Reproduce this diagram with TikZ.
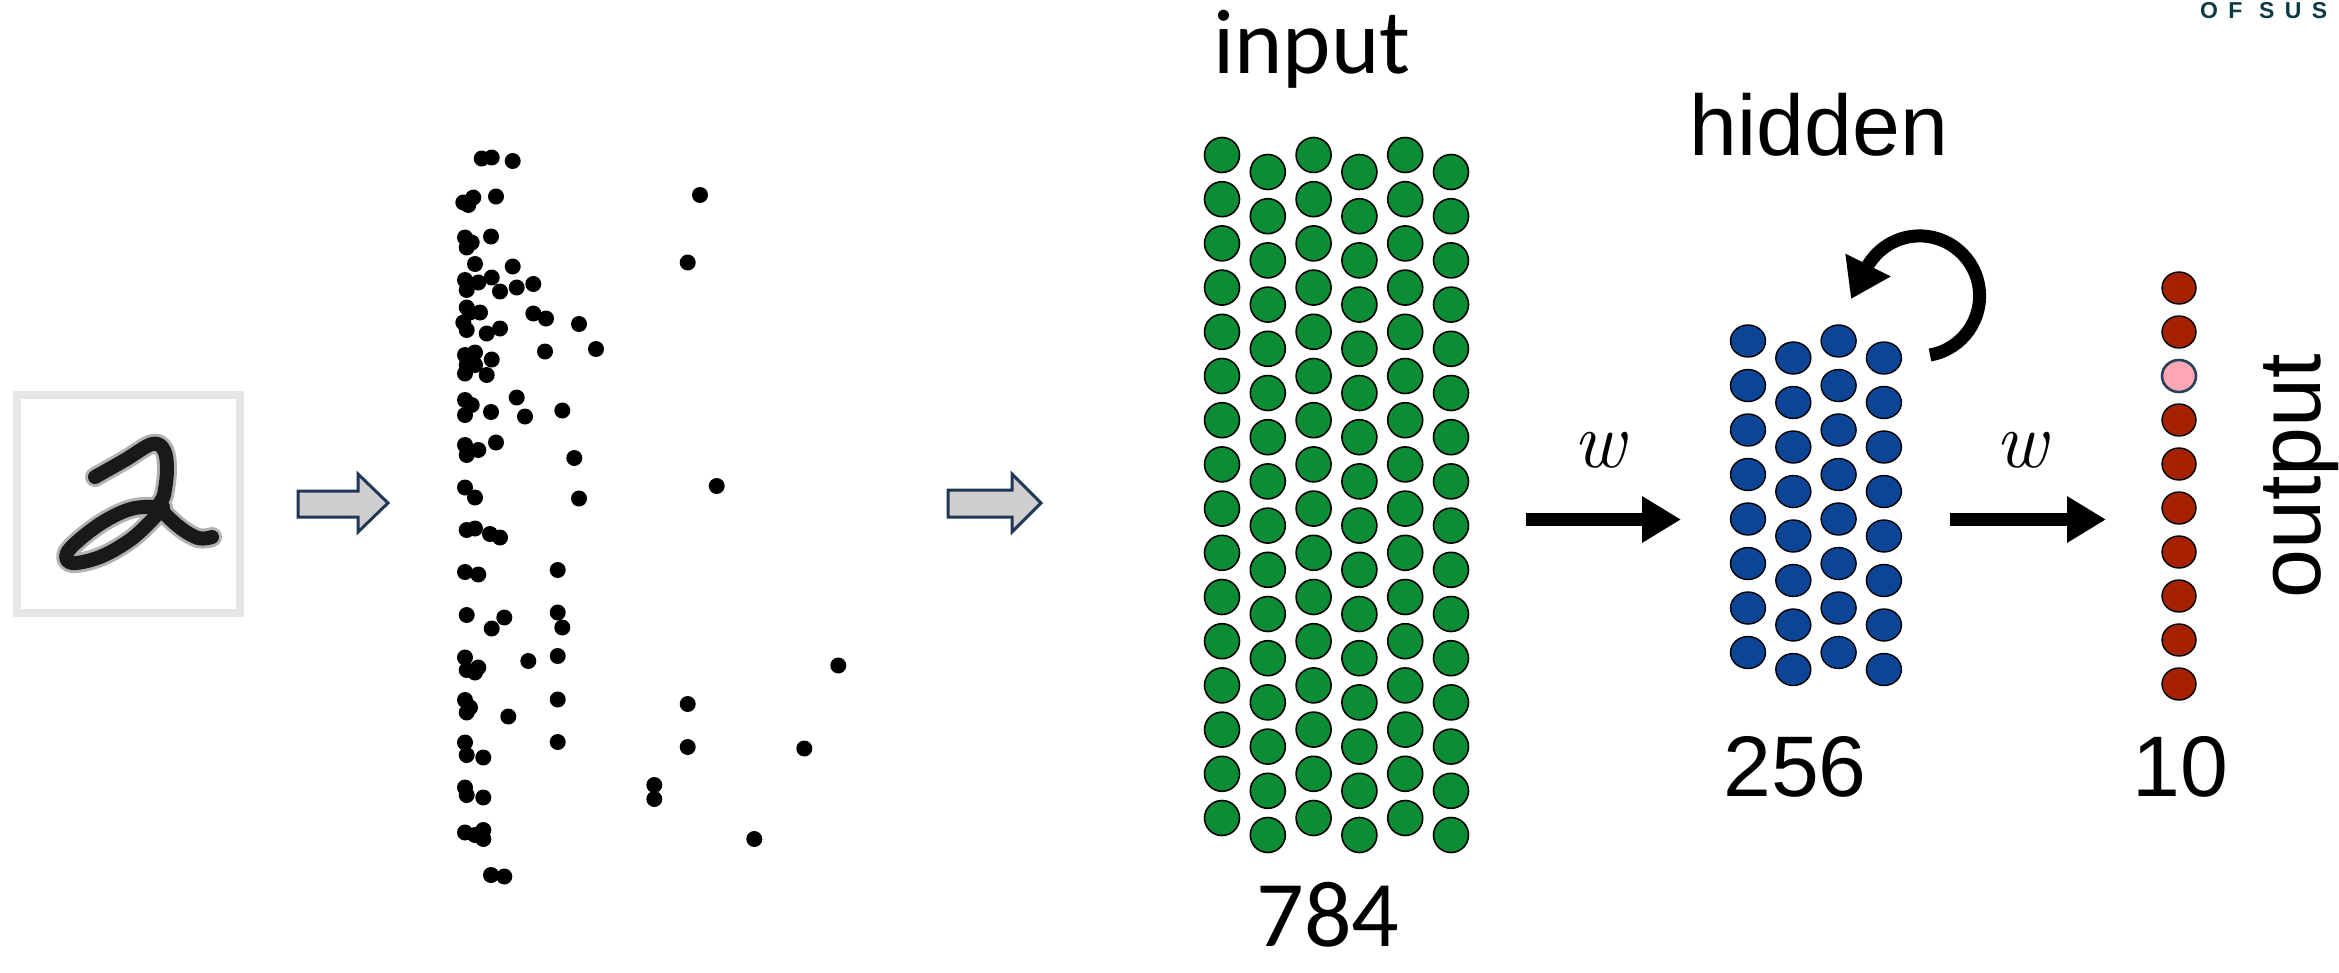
\documentclass[tikz,border=0pt]{standalone}
\usepackage{fontspec}
\newfontfamily\calibri{Carlito}
\newfontfamily\arial{Liberation Sans}
\usetikzlibrary{arrows.meta,shapes.geometric}
\definecolor{ingreen}{RGB}{12,140,52}
\definecolor{hidblue}{RGB}{12,68,150}
\definecolor{outred}{RGB}{165,33,0}
\definecolor{outpink}{RGB}{255,166,181}
\definecolor{pinkedge}{RGB}{40,64,90}
\definecolor{arrowgray}{RGB}{208,206,206}
\definecolor{arrowedge}{RGB}{31,56,86}
\definecolor{logoteal}{RGB}{14,58,68}
\definecolor{framegray}{RGB}{230,230,230}
\begin{document}
\begin{tikzpicture}[x=1pt,y=-1pt,
  innode/.style={circle,draw=black,line width=1.6pt,fill=ingreen,minimum size=35pt,inner sep=0pt},
  hidnode/.style={ellipse,draw=black,line width=1.4pt,fill=hidblue,minimum width=35pt,minimum height=32pt,inner sep=0pt},
  outnode/.style={ellipse,draw=black,line width=1.4pt,fill=outred,minimum width=34pt,minimum height=32pt,inner sep=0pt},
  winnode/.style={ellipse,draw=pinkedge,line width=2.6pt,fill=outpink,minimum width=34pt,minimum height=32pt,inner sep=0pt},
  lbl/.style={inner sep=0pt,anchor=base},
  warrow/.style={line width=13pt,-{Triangle[length=39pt,width=44pt]}},
  looparrow/.style={line width=13pt,-{Triangle[length=38pt,width=48pt]}},
  grayarrow/.style={draw=arrowedge,fill=arrowgray,line width=3pt,line join=miter},
  spike/.style={fill=black},
  digitink/.style={line width=14pt,line cap=round,line join=round,black!90},
  digitblur/.style={line width=20pt,line cap=round,line join=round,black!30}
]
\fill[white] (0,0) rectangle (2339,972);
\useasboundingbox (0,0) rectangle (2339,972);

% MNIST digit
\draw[framegray,line width=8pt] (17,395) rectangle (240,613);
\draw[digitblur] plot[smooth,tension=0.6] coordinates {(95,477) (125,460) (152,444) (164,450) (167,470) (164,495) (160,507) (178,526) (198,538) (212,537)};
\draw[digitblur] plot[smooth,tension=0.6] coordinates {(163,507) (135,508) (110,518) (85,535) (67,553) (72,563) (100,557) (130,540) (152,520) (162,508)};
\draw[digitink] plot[smooth,tension=0.6] coordinates {(95,477) (125,460) (152,444) (164,450) (167,470) (164,495) (160,507) (178,526) (198,538) (212,537)};
\draw[digitink] plot[smooth,tension=0.6] coordinates {(163,507) (135,508) (110,518) (85,535) (67,553) (72,563) (100,557) (130,540) (152,520) (162,508)};

% gray block arrows
\draw[grayarrow] (298,491) -- (358,491) -- (358,474) -- (388,503) -- (358,532) -- (358,517) -- (298,517) -- cycle;
\draw[grayarrow] (948,490) -- (1012,490) -- (1012,474) -- (1041,503) -- (1012,532) -- (1012,517) -- (948,517) -- cycle;

% spike raster
\foreach \px/\py in {481.7/158.5,491.7/157.5,512.7/161,463.3/202.5,473.3/197.5,468.3/205,496/196.5,700/195,
465/237.5,466.7/247.5,471.7/242.5,491/236.5,687.7/262.5,475/264,512.7/266.5,
465/280,466.7/290,478.3/282.5,491.7/277.5,500/291.5,516.7/287.5,533.3/284,
466.7/307.5,470/312.5,480/312.5,463.3/322.5,466.7/330,486.7/333.5,500/328.5,533.3/313.5,546/318.5,579/324,
545/351.5,596/349,465/355,475/352.5,466.7/365,475/365,465/373.5,491.7/359.5,486.7/375,
516.7/397.5,525/416.5,562.3/410.5,465/400,471.7/405,465/415,491/412,
465/445,466.7/455,478.3/450,496/442.5,574.3/458,
465/487.5,475/497.5,716.7/486,579/498.5,
466.7/530,475/528.5,490/534,500/537.5,
465/572,478.3/574.5,557.7/570,
466.7/615,491.7/628.5,504.3/617.5,557.7/612.5,562.3/627.5,
465/657.5,466.7/670,478.3/667.5,475/672.5,528.3/661,557.7/656,838.3/665.5,
465/700,466.7/712.5,470/707.5,508.3/716.5,557.7/699.5,687.7/704,
465/742.5,466.7/755,483.3/757.5,557.7/742,687.7/747,804.3/748.5,
465/787.5,466.7/795,483.3/797.5,654.3/785,654.3/799,
465/832.5,475/835,483.3/830,483.3/839,754.3/839,
491/875,504.3/876.5}
  \fill[spike] (\px,\py) circle[radius=8pt];

% input layer
\node[lbl] (inputlbl) at (1312,73) {\calibri\fontsize{92}{100}\selectfont input};
\foreach \c in {0,...,5}{
  \pgfmathsetmacro\cx{1222+45.8*\c}
  \pgfmathsetmacro\cy{ifthenelse(mod(\c,2)==0,155,172)}
  \foreach \r in {0,...,15}{
    \node[innode] (in-\c-\r) at (\cx,\cy+44.2*\r) {};
  }
}
\node[lbl] (incount) at (1328,946) {\calibri\fontsize{94}{100}\selectfont 784};

% hidden layer
\node[lbl] (hiddenlbl) at (1819,155) {\arial\fontsize{86}{95}\selectfont hidden};
\foreach \c in {0,...,3}{
  \pgfmathsetmacro\cx{1748+45.3*\c}
  \pgfmathsetmacro\cy{ifthenelse(mod(\c,2)==0,341,358)}
  \foreach \r in {0,...,7}{
    \node[hidnode] (hid-\c-\r) at (\cx,\cy+44.5*\r) {};
  }
}
\node[lbl] (hidcount) at (1795,796) {\arial\fontsize{86}{95}\selectfont 256};

% recurrent loop
\coordinate (loopstart) at (1930,355);
\coordinate (looptip) at (1851,299);
\draw[looparrow] (loopstart) arc[start angle=80,end angle=-150,radius=60] -- (looptip);

% output layer
\foreach \i in {0,...,9}{
  \ifnum\i=2
    \node[winnode] (out-\i) at (2179,288+44*\i) {};
  \else
    \node[outnode] (out-\i) at (2179,288+44*\i) {};
  \fi
}
\node[lbl] (outcount) at (2180,796) {\arial\fontsize{86}{95}\selectfont 10};
\node[lbl,rotate=90] (outputlbl) at (2320,476) {\arial\fontsize{88}{95}\selectfont output};

% weight arrows
\coordinate (w1s) at (1526,519.5);
\coordinate (w1e) at (1681,519.5);
\draw[warrow] (w1s) -- (w1e);
\node[lbl] (w1lbl) at (1599,467) {\fontsize{80}{84}\selectfont\itshape w};
\coordinate (w2s) at (1950,519.5);
\coordinate (w2e) at (2106,519.5);
\draw[warrow] (w2s) -- (w2e);
\node[lbl] (w2lbl) at (2021,467) {\fontsize{80}{84}\selectfont\itshape w};

% partial logo text
\node[inner sep=0pt,anchor=base west,text=logoteal] (logo) at (2200,18) {\arial\bfseries\fontsize{23}{23}\selectfont\addfontfeatures{LetterSpace=45}OF SUS};
\end{tikzpicture}
\end{document}
